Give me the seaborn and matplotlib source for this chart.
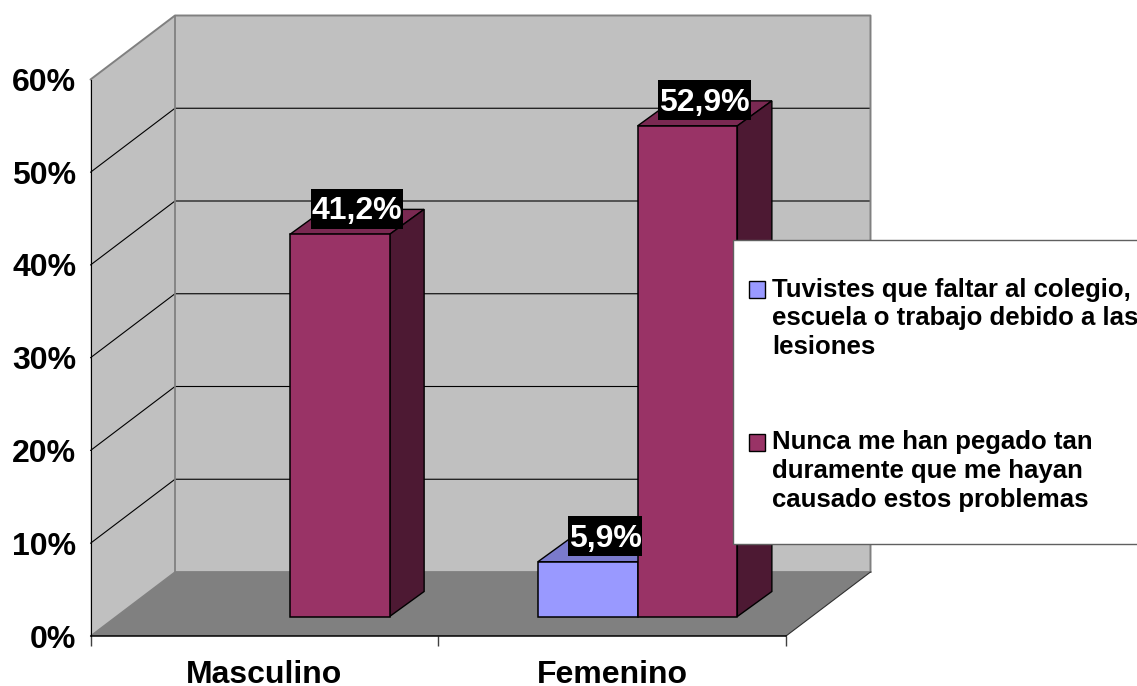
#! /usr/bin/env python3

import pandas as pd
import numpy as np
import matplotlib
matplotlib.use("Agg")
import matplotlib.pyplot as plt
from matplotlib.patches import Polygon, Patch
from matplotlib.ticker import FuncFormatter
from matplotlib.transforms import Affine2D, IdentityTransform
import seaborn as sns

grupos = ["Masculino", "Femenino"]
serie_faltar = "Tuvistes que faltar al colegio,\nescuela o trabajo debido a las\nlesiones"
serie_nunca = "Nunca me han pegado tan\nduramente que me hayan\ncausado estos problemas"
valores_faltar = [np.nan, 5.9]
valores_nunca = [41.2, 52.9]
y_ticks = [0, 10, 20, 30, 40, 50, 60]

W, H = 1137, 686
WALL = "#C0C0C0"
FLOOR = "#808080"
EDGE = "#808080"
colores = {serie_faltar: "#9999FF", serie_nunca: "#993366"}
tops = {serie_faltar: "#7A7ACC", serie_nunca: "#7A2952"}
sides = {serie_faltar: "#4D4D80", serie_nunca: "#4D1933"}

# 3d look, all in pixels
DEPTH = (84.5, 64.0)  # front plane to back wall
BAR_SHIFT = (25.5, 19.5)  # front plane to front of the bars
BAR_DEPTH = (34.5, 25.0)

sns.set_theme(style="white")
plt.rcParams["font.family"] = ["Liberation Sans", "DejaVu Sans"]
plt.rcParams["font.weight"] = "bold"
plt.rcParams["text.color"] = "black"
plt.rcParams["xtick.labelcolor"] = "black"
plt.rcParams["ytick.labelcolor"] = "black"

df = pd.DataFrame({
    "grupo": grupos * 2,
    "serie": [serie_faltar] * 2 + [serie_nunca] * 2,
    "pct": valores_faltar + valores_nunca,
})

fig = plt.figure(figsize=(W / 100, H / 100), dpi=100, facecolor="white")
ax = fig.add_axes([90.5 / W, (H - 636) / H, 695.5 / W, 556.5 / H])
ax.patch.set_alpha(0)

sns.barplot(data=df, x="grupo", y="pct", hue="serie", order=grupos,
            hue_order=[serie_faltar, serie_nunca], palette=colores,
            width=0.5737, gap=0, edgecolor="black", linewidth=1.1,
            saturation=1, legend=False, ax=ax)

ax.set_xlim(-0.5, 1.5)
ax.set_ylim(0, 60)
ax.set_xlabel("")
ax.set_ylabel("")
ax.set_yticks(y_ticks)
ax.yaxis.set_major_formatter(FuncFormatter(lambda v, _: "%d%%" % v))
ax.set_xticks([-0.5, 0.5, 1.5])
ax.set_xticklabels([])
ax.set_xticks([0, 1], minor=True)
ax.set_xticklabels(grupos, minor=True)
ax.tick_params(axis="y", length=7.2, width=1, color=EDGE, labelsize=23, pad=3)
ax.tick_params(axis="x", which="major", length=7.2, width=1, color="#404040", bottom=True)
ax.tick_params(axis="x", which="minor", length=0, labelsize=23, pad=17, bottom=False)
for s in ["top", "right"]:
    ax.spines[s].set_visible(False)
ax.spines["left"].set_color("black")
ax.spines["left"].set_linewidth(0.8)
ax.spines["bottom"].set_color("black")
ax.spines["bottom"].set_linewidth(1.1)

pixel = IdentityTransform()


def to_px(x, y):
    return ax.transData.transform((x, y))


def shape(points, color, edge=None, lw=0.8, z=1.0):
    ax.add_patch(Polygon(points, closed=True, facecolor=color, edgecolor=edge or "none",
                         linewidth=lw, transform=pixel, clip_on=False, zorder=z))


def line(points, color, lw, z=1.2):
    xs, ys = zip(*points)
    ax.plot(xs, ys, color=color, linewidth=lw, transform=pixel, clip_on=False, zorder=z)


# walls and floor
f00 = to_px(-0.5, 0)
f10 = to_px(1.5, 0)
f06 = to_px(-0.5, 60)
d = np.array(DEPTH)
b00, b10, b06 = f00 + d, f10 + d, f06 + d
b16 = b10 + (b06 - b00)
shape([f00, b00, b06, f06], WALL, z=0.5)
shape([b00, b10, b16, b06], WALL, z=0.5)
shape([f00, f10, b10, b00], FLOOR, z=0.6)
for y in y_ticks[1:-1]:
    p = to_px(-0.5, y)
    line([p, p + d, (b10[0], (p + d)[1])], "black", 0.8)
line([f06, b06, b16, b10], EDGE, 1.4)
line([b06, b00, b10], EDGE, 1.3)
line([f00, b00], EDGE, 1.0)
line([f10, b10], "#303030", 0.8)

# bars: push them back from the front plane, add top and side faces
move = Affine2D().translate(*BAR_SHIFT)
bd = np.array(BAR_DEPTH)
barras = []
for cont, serie in zip(ax.containers, [serie_faltar, serie_nunca]):
    for bar in cont:
        h = bar.get_height()
        if np.isnan(h) or h <= 0:
            continue
        x0, x1 = bar.get_x(), bar.get_x() + bar.get_width()
        s = np.array(BAR_SHIFT)
        a = to_px(x0, h) + s
        b = to_px(x1, h) + s
        c = to_px(x1, 0) + s
        bar.set_transform(ax.transData + move)
        bar.set_clip_on(False)
        bar.set_zorder(3)
        shape([a, b, b + bd, a + bd], tops[serie], "black", 1.0, 2.5)
        shape([b, c, c + bd, b + bd], sides[serie], "black", 1.0, 2.5)
        barras.append(((a + b) / 2 + bd / 2, h))

# data labels on a black block a bit taller than the text
renderer = fig.canvas.get_renderer()
for centro, h in barras:
    t = ax.text(centro[0], centro[1] + 10.5, ("%.1f%%" % h).replace(".", ","),
                transform=pixel, color="white", fontsize=23, fontweight="bold",
                ha="center", va="center", zorder=5, clip_on=False)
    ancho = t.get_window_extent(renderer).width
    cx, cy = centro[0], centro[1] + 13
    shape([(cx - ancho / 2 - 1, cy - 20), (cx + ancho / 2 + 1, cy - 20),
           (cx + ancho / 2 + 1, cy + 20), (cx - ancho / 2 - 1, cy + 20)], "black", z=4.5)

# legend box runs off the right side of the image
shape([(733, H - 240), (W + 5, H - 240), (W + 5, H - 544), (733, H - 544)],
      "white", "#606060", 1.0, 5.5)
handles = [Patch(facecolor=colores[serie_faltar], edgecolor="black", linewidth=1),
           Patch(facecolor=colores[serie_nunca], edgecolor="black", linewidth=1)]
leg = ax.legend(handles, [serie_faltar, serie_nunca], loc="upper left",
                bbox_to_anchor=(749, H - 277.5), bbox_transform=pixel,
                borderaxespad=0, borderpad=0, labelspacing=2.775,
                handlelength=0.62, handleheight=0.62, handletextpad=0.27,
                frameon=False, prop={"size": 18.5, "weight": "bold"})
leg.set_zorder(6)
for t in leg.get_texts():
    t.set_linespacing(1.25)
    t.set_color("black")
# handles sit on the first text line, not in the middle of the block
for hnd in leg.legend_handles:
    hnd.set_y(hnd.get_y() + 20.9)

fig.savefig("out.png", dpi=100)
